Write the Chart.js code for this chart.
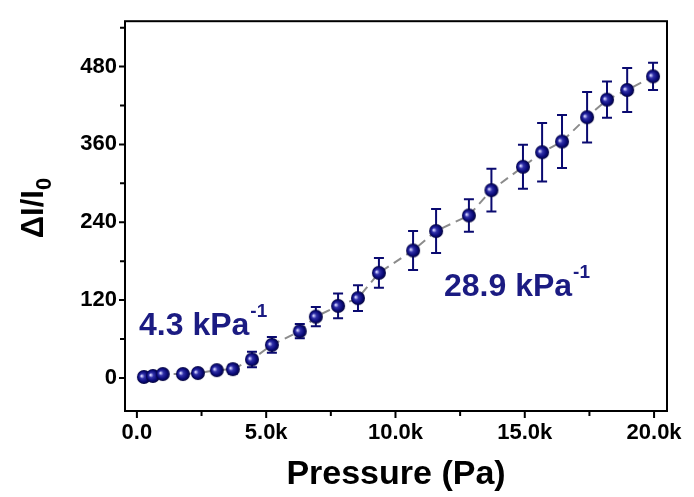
<!DOCTYPE html>
<html>
<head>
<meta charset="utf-8">
<script src="https://cdn.jsdelivr.net/npm/chart.js@4.4.1/dist/chart.umd.min.js"></script>
<style>
  html, body { margin: 0; padding: 0; background: #fff; }
  #wrap { width: 694px; height: 497px; }
</style>
</head>
<body>
<div id="wrap"><canvas id="chart" width="694" height="497"></canvas></div>
<script>
// pressure (Pa) vs relative current change
const pressure = [270, 620, 1000, 1780, 2360, 3090, 3710, 4450, 5220, 6300, 6920, 7780, 8550, 9360, 10680, 11570, 12840, 13710, 14930, 15670, 16440, 17410, 18180, 18960, 19960];
const response = [1.5, 3, 6, 6, 7.5, 12, 13.5, 28.5, 51, 72, 94.5, 111, 123, 162, 196.5, 226.5, 250.5, 289.5, 325.5, 348, 364.5, 402, 429, 444, 465];
const errors = [1, 2, 2, 2, 3, 5, 7, 12, 12, 11, 15, 19, 20, 23, 30, 34, 25, 33, 34, 45, 41, 39, 28, 34, 21];

const xTicks = [0, 5000, 10000, 15000, 20000];
const xMinor = [2500, 7500, 12500, 17500];
const yTicks = [0, 120, 240, 360, 480];
const yMinor = [60, 180, 300, 420, 540];

const navy = '#0a0a70';
const textNavy = '#1b1b82';
const FONT = '"Liberation Sans", Arial, sans-serif';

// little shaded ball for the markers
function makeBall(r) {
    const c = document.createElement('canvas');
    c.width = c.height = r * 2 + 2;
    const g = c.getContext('2d');
    const cx = r + 1, cy = r + 1;
    const grad = g.createRadialGradient(cx - r * 0.35, cy - r * 0.15, 0.5, cx, cy, r);
    grad.addColorStop(0, '#d0d0ff');
    grad.addColorStop(0.3, '#3030a8');
    grad.addColorStop(0.7, '#0a0a78');
    grad.addColorStop(1, '#04043a');
    g.fillStyle = grad;
    g.beginPath();
    g.arc(cx, cy, r, 0, Math.PI * 2);
    g.fill();
    return c;
}
const ball = makeBall(7);

const points = pressure.map((p, i) => ({ x: p, y: response[i] }));

const decorPlugin = {
    id: 'decor',
    beforeDatasetsDraw(chart) {
        // error bars
        const ctx = chart.ctx;
        const xs = chart.scales.x, ys = chart.scales.y;
        ctx.save();
        ctx.strokeStyle = navy;
        ctx.lineWidth = 2;
        pressure.forEach((p, i) => {
            const px = xs.getPixelForValue(p);
            const top = ys.getPixelForValue(response[i] + errors[i]);
            const bot = ys.getPixelForValue(response[i] - errors[i]);
            ctx.beginPath();
            ctx.moveTo(px, top); ctx.lineTo(px, bot);
            ctx.moveTo(px - 5, top); ctx.lineTo(px + 5, top);
            ctx.moveTo(px - 5, bot); ctx.lineTo(px + 5, bot);
            ctx.stroke();
        });
        ctx.restore();
    },
    afterDraw(chart) {
        const ctx = chart.ctx;
        const a = chart.chartArea;
        const xs = chart.scales.x, ys = chart.scales.y;
        ctx.save();
        // frame
        ctx.strokeStyle = '#000';
        ctx.lineWidth = 2;
        ctx.strokeRect(a.left, a.top, a.right - a.left, a.bottom - a.top);
        // tick marks (outside)
        ctx.beginPath();
        xTicks.forEach(v => { const px = xs.getPixelForValue(v); ctx.moveTo(px, a.bottom); ctx.lineTo(px, a.bottom + 7); });
        xMinor.forEach(v => { const px = xs.getPixelForValue(v); ctx.moveTo(px, a.bottom); ctx.lineTo(px, a.bottom + 5); });
        yTicks.forEach(v => { const py = ys.getPixelForValue(v); ctx.moveTo(a.left, py); ctx.lineTo(a.left - 6, py); });
        yMinor.forEach(v => { const py = ys.getPixelForValue(v); ctx.moveTo(a.left, py); ctx.lineTo(a.left - 5, py); });
        ctx.stroke();

        // axis titles
        ctx.fillStyle = '#000';
        ctx.font = 'bold 34px ' + FONT;
        ctx.textAlign = 'center';
        ctx.textBaseline = 'alphabetic';
        ctx.fillText('Pressure (Pa)', (a.left + a.right) / 2, 484);

        ctx.save();
        ctx.translate(43, 208);
        ctx.rotate(-Math.PI / 2);
        ctx.font = 'bold 31px ' + FONT;
        ctx.textAlign = 'left';
        const main = '\u0394I/I';
        const mw = ctx.measureText(main).width;
        ctx.font = 'bold 22px ' + FONT;
        const sw = ctx.measureText('0').width;
        const start = -(mw + sw) / 2;
        ctx.font = 'bold 31px ' + FONT;
        ctx.fillText(main, start, 0);
        ctx.font = 'bold 22px ' + FONT;
        ctx.fillText('0', start + mw, 8);
        ctx.restore();

        // slope labels
        ctx.fillStyle = textNavy;
        ctx.textAlign = 'left';
        const slope = (txt, x, y) => {
            ctx.font = 'bold 32px ' + FONT;
            ctx.fillText(txt, x, y);
            const w = ctx.measureText(txt).width;
            ctx.font = 'bold 19px ' + FONT;
            ctx.fillText('-1', x + w + 1, y - 18);
        };
        slope('4.3 kPa', 139, 335);
        slope('28.9 kPa', 444, 296);
        ctx.restore();
    }
};

new Chart(document.getElementById('chart'), {
    type: 'scatter',
    data: {
        datasets: [
            {
                label: 'fit',
                data: points,
                showLine: true,
                borderColor: '#8c8c8c',
                borderWidth: 2,
                borderDash: [9, 6],
                pointRadius: 0,
                fill: false,
                order: 2
            },
            {
                label: 'data',
                data: points,
                showLine: false,
                pointStyle: ball,
                pointRadius: 7,
                order: 1
            }
        ]
    },
    options: {
        responsive: false,
        animation: false,
        layout: { padding: { top: 10, right: 27, left: 0, bottom: 0 } },
        plugins: { legend: { display: false }, tooltip: { enabled: false } },
        scales: {
            x: {
                type: 'linear',
                min: -460,
                max: 20500,
                grid: { display: false, drawTicks: false },
                border: { display: false },
                afterBuildTicks: s => { s.ticks = xTicks.map(v => ({ value: v })); },
                afterFit: s => { s.height = 86; },
                ticks: {
                    padding: 9,
                    color: '#000',
                    maxRotation: 0,
                    font: { family: FONT, size: 22, weight: 'bold' },
                    callback: v => v === 0 ? '0.0' : (v / 1000).toFixed(1) + 'k'
                }
            },
            y: {
                type: 'linear',
                min: -51,
                max: 550,
                grid: { display: false, drawTicks: false },
                border: { display: false },
                afterBuildTicks: s => { s.ticks = yTicks.map(v => ({ value: v })); },
                afterFit: s => { s.width = 125; },
                ticks: {
                    padding: 8,
                    color: '#000',
                    font: { family: FONT, size: 22, weight: 'bold' }
                }
            }
        }
    },
    plugins: [decorPlugin]
});
</script>
</body>
</html>
